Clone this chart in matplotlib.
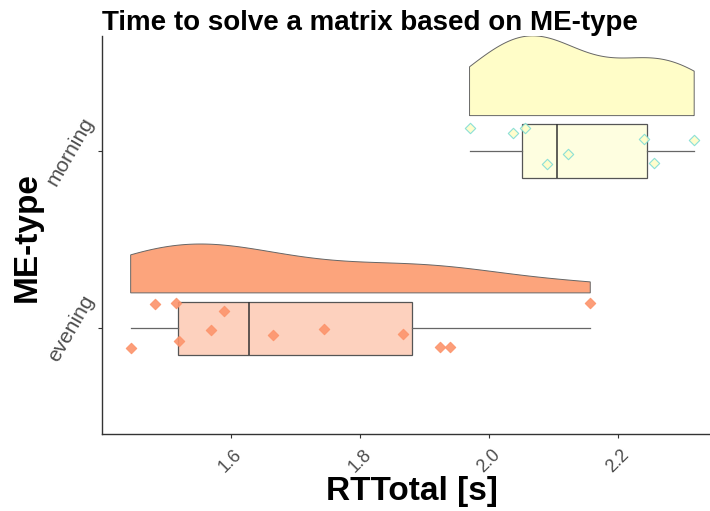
import numpy as np
import matplotlib
matplotlib.use("Agg")
import matplotlib.pyplot as plt

plt.rcParams['font.family'] = ['Liberation Sans', 'DejaVu Sans']

groups = ["evening", "morning"]

evening_rt = [1.445, 1.483, 1.516, 1.520, 1.570, 1.590,
              1.666, 1.745, 1.867, 1.924, 1.939, 2.157]
evening_jit = [-0.113, 0.137, 0.141, -0.072, -0.010, 0.098,
               -0.036, -0.006, -0.034, -0.104, -0.104, 0.143]

morning_rt = [1.970, 2.037, 2.056, 2.090, 2.122, 2.241, 2.255, 2.318]
morning_jit = [0.128, 0.100, 0.132, -0.073, -0.019, 0.070, -0.066, 0.062]

violin_col = ["#FCA47C", "#FFFDC8"]
box_col = ["#FDD1BE", "#FEFEE0"]
pt_face = ["#FC946C", "#FFFDC8"]
pt_edge = ["#FC946C", "#80DDD5"]


def kde_nrd0(vals, grid):
    v = np.asarray(vals)
    n = len(v)
    sd = v.std(ddof=1)
    iqr = np.subtract(*np.percentile(v, [75, 25]))
    bw = 0.9 * min(sd, iqr / 1.34) * n ** -0.2
    z = (grid[:, None] - v[None, :]) / bw
    return np.exp(-0.5 * z ** 2).sum(axis=1) / (n * bw * np.sqrt(2 * np.pi))


fig = plt.figure(figsize=(7.1, 5.11), dpi=100)
ax = fig.add_axes([102 / 710, 77 / 511, 608 / 710, 398 / 511])

data = [evening_rt, morning_rt]
jits = [evening_jit, morning_jit]

# densities (half violins), scaled by the largest one
grids = [np.linspace(min(d), max(d), 512) for d in data]
dens = [kde_nrd0(d, g) for d, g in zip(data, grids)]
top = max(d.max() for d in dens)

for i, (g, d) in enumerate(zip(grids, dens)):
    base = i + 1 + 0.2
    h = base + 0.45 * d / top
    xs = np.concatenate([g, g[::-1]])
    ys = np.concatenate([h, np.full_like(g, base)])
    ax.fill(xs, ys, facecolor=violin_col[i], edgecolor="#666666", lw=0.7, zorder=2)

# boxes
bp = ax.boxplot(data, positions=[1, 2], vert=False, widths=0.3,
                patch_artist=True, showcaps=False, showfliers=False,
                whis=1.5, zorder=3)
for i, b in enumerate(bp["boxes"]):
    b.set_facecolor(box_col[i])
    b.set_edgecolor("#555555")
    b.set_linewidth(0.9)
for w in bp["whiskers"]:
    w.set_color("#666666")
    w.set_linewidth(0.9)
for m in bp["medians"]:
    m.set_color("#333333")
    m.set_linewidth(1.1)

# points
for i, (d, j) in enumerate(zip(data, jits)):
    ax.scatter(d, np.array(j) + i + 1, marker="D", s=28,
               facecolor=pt_face[i], edgecolor=pt_edge[i],
               linewidths=0.8, alpha=0.9, zorder=4)

ax.set_xlim(1.4006, 2.3425)
ax.set_ylim(0.404, 2.649)
ax.set_xticks([1.6, 1.8, 2.0, 2.2])
ax.set_xticklabels(["1.6", "1.8", "2.0", "2.2"], rotation=45,
                   ha="center", color="#4D4D4D", fontsize=13)
ax.set_yticks([1, 2])
ax.set_yticklabels(groups, rotation=60, va="center", ha="right",
                   color="#4D4D4D", fontsize=15)
ax.tick_params(axis="both", length=3, color="#333333", width=0.8)
ax.tick_params(axis="x", pad=6)
ax.tick_params(axis="y", pad=0)

for s in ["top", "right"]:
    ax.spines[s].set_visible(False)
for s in ["left", "bottom"]:
    ax.spines[s].set_color("#333333")
    ax.spines[s].set_linewidth(1.0)

ax.set_xlabel("RTTotal [s]", fontsize=24, fontweight="bold")
ax.xaxis.set_label_coords(0.5 + 6 / 608, -0.106)
ax.set_ylabel("ME-type", fontsize=24, fontweight="bold")
ax.yaxis.set_label_coords(-0.097, 0.494)
fig.text(102 / 710, 1 - 30 / 511, "Time to solve a matrix based on ME-type",
         fontsize=20, fontweight="bold", ha="left", va="baseline")

fig.savefig("out.png", dpi=100)
